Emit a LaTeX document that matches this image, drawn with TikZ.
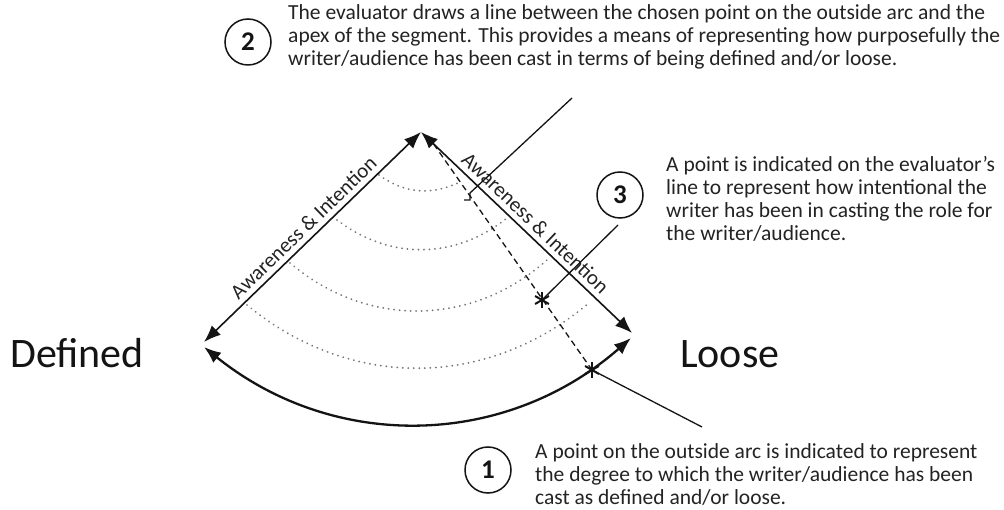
\documentclass[tikz,border=0pt]{standalone}
\usepackage{fontspec}
\setmainfont{Carlito}
\usetikzlibrary{arrows.meta,positioning,calc}
\definecolor{fsInk}  {RGB}{ 20, 20, 20}
\definecolor{fsText} {RGB}{ 35, 35, 35}
\definecolor{fsDot}  {RGB}{115,115,115}

\begin{document}
\begin{tikzpicture}[x=1pt,y=1pt,
  every node/.style={font=\fontsize{21.5}{23}\selectfont,text=fsText},
  >={Latex[length=17pt,width=13pt]},
  side/.style ={draw=fsInk,line width=1.6pt,<->},
  rim/.style  ={draw=fsInk,line width=2.3pt,<->},
  level/.style={draw=fsDot,line width=2pt,dash pattern=on 0.01pt off 5.5pt,
                line cap=round},
  chord/.style={draw=fsInk,line width=1.3pt,dash pattern=on 6pt off 4pt},
  lead/.style ={draw=fsInk,line width=1.3pt},
  num/.style  ={draw=fsInk,circle,line width=1.5pt,minimum size=46pt,
                inner sep=0pt,text=fsInk,
                font=\fontsize{27}{27}\selectfont\bfseries},
  note/.style ={align=left,inner sep=0pt,anchor=west},
  pole/.style ={font=\fontsize{42}{42}\selectfont,text=fsInk,inner sep=0pt,
                anchor=base west},
  axis/.style ={sloped,above,inner sep=5pt,font=\fontsize{21}{21}\selectfont},
  pin/.style  ={inner sep=0pt,minimum size=20pt,
                path picture={\foreach \a in {30,90,150}
                  \draw[fsInk,line width=2pt]
                    ($(path picture bounding box.center)+(\a:8pt)$) --
                    ($(path picture bounding box.center)+(\a+180:8pt)$);}}
]
\useasboundingbox[fill=white] (0,0) rectangle (1004,509);

% sector corners
\coordinate (apex) at (421,377);
\coordinate (sl)   at (204,167);
\coordinate (sr)   at (632,176);
\coordinate (al)   at (204,162);
\coordinate (ar)   at (631,171);

% ends of the dotted levels
\coordinate (l1) at (379,334);  \coordinate (r1) at (458,326);
\coordinate (l2) at (337,289);  \coordinate (r2) at (507,291);
\coordinate (l3) at (290,246);  \coordinate (r3) at (547,249);
\coordinate (l4) at (247,204);  \coordinate (r4) at (590,207);

\foreach \k/\b in {1/30,2/38,3/41,4/40}
  \draw[level] (l\k) to[bend right=\b] (r\k);

\draw[side] (sl) -- node[axis] (awL) {Awareness \& Intention} (apex);
\draw[side] (apex) -- node[axis] (awR) {Awareness \& Intention} (sr);
\draw[rim]  (al) to[bend right=40] (ar);

% evaluator's line and the two points
\coordinate (top) at (428,373);
\node[pin] (pt1) at (592,139) {};
\node[pin] (pt3) at (542,209) {};
\draw[chord] (top) -- (pt1.center);

\node[pole] (def)   at (10,141)  {Defined};
\node[pole] (loose) at (680,141) {Loose};

% numbered notes
\node[num] (n2) at (248,467) {2};
\node[note] (t2) at (288,472)
  {The evaluator draws a line between the chosen point on the outside arc and the\\
   apex of the segment. This provides a means of representing how purposefully the\\
   writer/audience has been cast in terms of being defined and/or loose.};
\node[num] (n3) at (620,314) {3};
\node[note] (t3) at (666,310)
  {A point is indicated on the evaluator’s\\
   line to represent how intentional the\\
   writer has been in casting the role for\\
   the writer/audience.};
\node[num] (n1) at (488,39) {1};
\node[note] (t1) at (535,35)
  {A point on the outside arc is indicated to represent\\
   the degree to which the writer/audience has been\\
   cast as defined and/or loose.};

% leader lines
\coordinate (c2) at (572,411);
\coordinate (h2) at (470,316);
\coordinate (c3) at (618,284);
\coordinate (c1) at (702,82);
\draw[lead] (c2) -- (h2) -- ++(0,-7) -- ++(-6,0);
\draw[lead] (c3) -- (pt3.center);
\draw[lead] (pt1.center) -- (c1);
\end{tikzpicture}
\end{document}
